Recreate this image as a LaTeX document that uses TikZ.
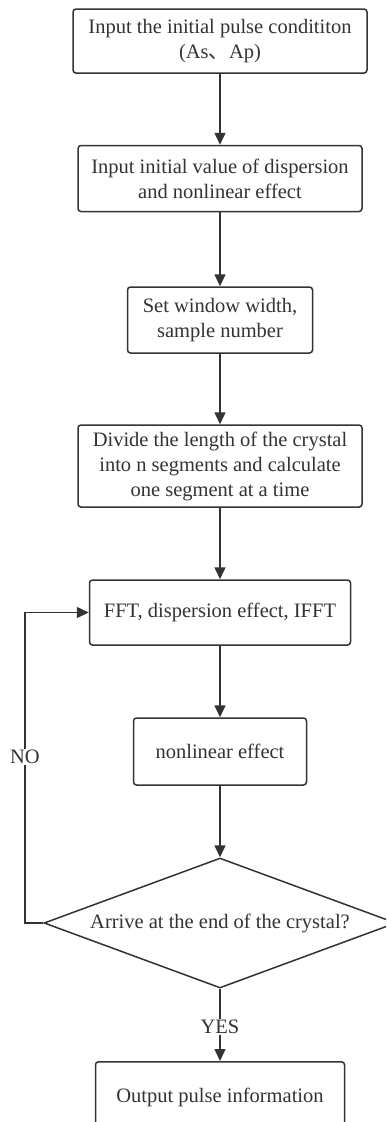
\documentclass[tikz,border=0pt]{standalone}
\usepackage{fontspec}
\setmainfont{Liberation Serif}
\newfontfamily\cjk{Noto Sans CJK SC}
\usetikzlibrary{arrows.meta,shapes.geometric}
\definecolor{ink}{HTML}{333333}
\begin{document}
\begin{tikzpicture}[x=1pt,y=1pt,
  every node/.style={font=\fontsize{20.5}{25}\selectfont, text=ink},
  procbox/.style={draw=ink, line width=1.5pt, rounded corners=3pt, align=center, inner sep=0pt},
  arr/.style={draw=ink, line width=1.5pt, -{Triangle[width=11pt,length=12pt]}},
  lbl/.style={fill=white, inner sep=1pt}]
\clip (0,0) rectangle (386,-1122);
\fill[white] (0,0) rectangle (386,-1122);
\node[procbox, minimum width=294pt, minimum height=64pt] (b1) at (220,-41) {Input the initial pulse condititon\\(As{\cjk 、}Ap)};
\node[procbox, minimum width=284pt, minimum height=66pt] (b2) at (220,-178.5) {Input initial value of dispersion\\and nonlinear effect};
\node[procbox, minimum width=185pt, minimum height=66pt] (b3) at (220,-320) {Set window width,\\sample number};
\node[procbox, minimum width=284pt, minimum height=82pt] (b4) at (220,-466) {Divide the length of the crystal\\into n segments and calculate\\one segment at a time};
\node[procbox, minimum width=261pt, minimum height=65pt] (b5) at (220,-612.5) {FFT, dispersion effect, IFFT};
\node[procbox, minimum width=173pt, minimum height=67pt] (b6) at (220,-751.5) {nonlinear effect};
\node[diamond, draw=ink, line width=1.5pt, minimum width=352pt, minimum height=130pt, inner sep=0pt] (d) at (220,-923) {};
\node (dt) at (220,-923) {Arrive at the end of the crystal?};
\node[procbox, minimum width=249pt, minimum height=72pt, anchor=north] (b7) at (220,-1061) {};
\node (b7t) at (220,-1097) {Output pulse information};
\draw[arr] (b1.south) -- (b2.north);
\draw[arr] (b2.south) -- (b3.north);
\draw[arr] (b3.south) -- (b4.north);
\draw[arr] (b4.south) -- (b5.north);
\draw[arr] (b5.south) -- (b6.north);
\draw[arr] (b6.south) -- (d.north);
\coordinate (lc) at (25,-923);
\draw[arr] (d.west) -- (lc) |- (b5.west);
\node[lbl] (no) at (25,-757) {NO};
\draw[arr] (d.south) -- (b7.north);
\node[lbl] (yes) at (220,-1027) {YES};
\end{tikzpicture}
\end{document}
